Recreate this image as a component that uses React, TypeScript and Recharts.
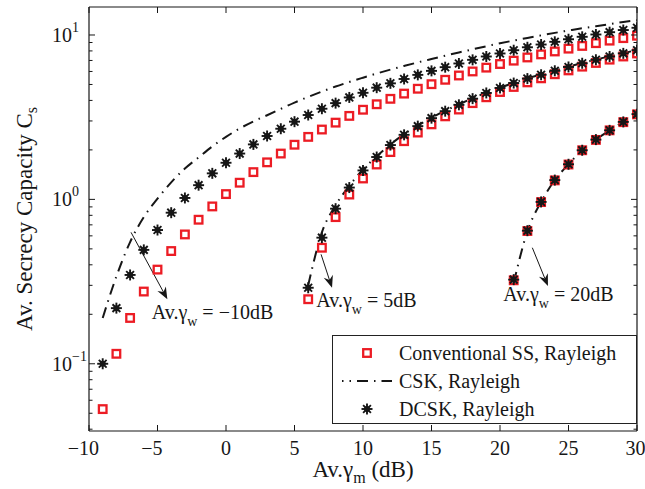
import React from 'react'
import {
  ComposedChart, Line, Scatter, XAxis, YAxis, Legend,
  ReferenceLine, ReferenceDot,
} from 'recharts'

const W = 645
const H = 489
const MARGIN = { top: 7, right: 8, left: 0, bottom: 0 }
const Y_AXIS_W = 89
const X_AXIS_H = 58
const PLOT_LEFT = MARGIN.left + Y_AXIS_W
const PLOT_RIGHT = W - MARGIN.right
const PLOT_TOP = MARGIN.top
const PLOT_BOTTOM = H - MARGIN.bottom - X_AXIS_H

const FONT = '"Liberation Serif", "Times New Roman", serif'
const RED = '#ec1c24'
const INK = '#161616'

const X_MIN = -10
const X_MAX = 30
const Y_MIN = 0.039
const Y_MAX = 14.8

// Av. gamma_w = -10 dB
const xLow = [-9, -8, -7, -6, -5, -4, -3, -2, -1, 0, 1, 2, 3, 4, 5, 6, 7, 8, 9, 10,
  11, 12, 13, 14, 15, 16, 17, 18, 19, 20, 21, 22, 23, 24, 25, 26, 27, 28, 29, 30]
const ssLow = [0.053, 0.115, 0.19, 0.275, 0.374, 0.485, 0.612, 0.752, 0.906, 1.077,
  1.263, 1.465, 1.68, 1.9, 2.15, 2.4, 2.66, 2.93, 3.22, 3.51,
  3.79, 4.09, 4.4, 4.71, 5.02, 5.34, 5.67, 6.0, 6.33, 6.66,
  6.98, 7.3, 7.62, 7.94, 8.26, 8.58, 8.92, 9.24, 9.57, 9.9]
const cskLow = [0.19, 0.34, 0.55, 0.78, 1.01, 1.27, 1.54, 1.8, 2.1, 2.4,
  2.7, 2.98, 3.25, 3.55, 3.88, 4.2, 4.53, 4.86, 5.18, 5.5,
  5.83, 6.16, 6.48, 6.81, 7.14, 7.48, 7.83, 8.18, 8.54, 8.9,
  9.25, 9.6, 9.95, 10.3, 10.65, 11.0, 11.3, 11.65, 12.0, 12.3]
const dcskLow = [0.1, 0.218, 0.347, 0.493, 0.651, 0.83, 1.02, 1.22, 1.44, 1.67,
  1.9, 2.16, 2.43, 2.69, 2.97, 3.26, 3.56, 3.85, 4.17, 4.45,
  4.78, 5.08, 5.4, 5.72, 6.05, 6.37, 6.71, 7.06, 7.4, 7.72,
  8.08, 8.42, 8.75, 9.09, 9.42, 9.75, 10.07, 10.4, 10.72, 11.06]

// Av. gamma_w = 5 dB
const xMid = [6, 7, 8, 9, 10, 11, 12, 13, 14, 15, 16, 17, 18, 19, 20, 21, 22, 23, 24, 25, 26, 27, 28, 29, 30]
const ssMid = [0.247, 0.508, 0.78, 1.07, 1.34, 1.63, 1.94, 2.26, 2.55, 2.86, 3.2, 3.52, 3.85,
  4.18, 4.5, 4.83, 5.15, 5.45, 5.77, 6.09, 6.42, 6.76, 7.08, 7.4, 7.72]
const cskMid = [0.3, 0.63, 0.92, 1.21, 1.52, 1.83, 2.16, 2.49, 2.81, 3.14, 3.46, 3.78, 4.12,
  4.46, 4.78, 5.12, 5.45, 5.75, 6.08, 6.41, 6.75, 7.09, 7.42, 7.75, 8.1]
const dcskMid = [0.29, 0.585, 0.878, 1.18, 1.5, 1.81, 2.14, 2.47, 2.79, 3.12, 3.44, 3.76, 4.1,
  4.44, 4.76, 5.1, 5.43, 5.73, 6.06, 6.39, 6.73, 7.07, 7.4, 7.73, 8.08]

// Av. gamma_w = 20 dB
const xHigh = [21, 22, 23, 24, 25, 26, 27, 28, 29, 30]
const ssHigh = [0.322, 0.642, 0.963, 1.305, 1.63, 1.99, 2.3, 2.63, 2.95, 3.29]
const cskHigh = [0.31, 0.64, 0.965, 1.31, 1.635, 1.99, 2.31, 2.63, 2.96, 3.3]
const dcskHigh = [0.325, 0.645, 0.965, 1.31, 1.635, 1.99, 2.31, 2.63, 2.96, 3.3]

const xTicks = [-10, -5, 0, 5, 10, 15, 20, 25, 30]
const yMajor = [0.1, 1, 10]
const yMinor = [0.04, 0.05, 0.06, 0.07, 0.08, 0.09, 0.2, 0.3, 0.4, 0.5, 0.6, 0.7, 0.8, 0.9,
  2, 3, 4, 5, 6, 7, 8, 9]

const legendLabels = ['Conventional SS, Rayleigh', 'CSK, Rayleigh', 'DCSK, Rayleigh']

// annotation arrows (data coords) and their captions
const arrowSegments = [
  [{ x: -6.93, y: 0.63 }, { x: -4.28, y: 0.247 }],
  [{ x: 6.94, y: 0.463 }, { x: 7.74, y: 0.29 }],
  [{ x: 22.36, y: 0.508 }, { x: 23.5, y: 0.297 }],
]
const noteLabels = [
  { x: -5.42, y: 0.1865, value: '−10dB' },
  { x: 6.59, y: 0.2206, value: '5dB' },
  { x: 20.24, y: 0.241, value: '20dB' },
]

const toPoints = (xs: number[], ys: number[]) => xs.map((x, i) => ({ x, y: ys[i] }))

const CSK_DASH = '11 6 1.5 6'

function SquareMark({ cx, cy }: any) {
  if (cx == null || cy == null) return null
  return <rect x={cx - 3.8} y={cy - 3.8} width={7.6} height={7.6} fill="none" stroke={RED} strokeWidth={2.3} />
}

function StarMark({ cx, cy }: any) {
  if (cx == null || cy == null) return null
  const r = 5.5
  const d = 3.9
  return (
    <g stroke={INK} strokeWidth={1.9}>
      <line x1={cx - r} y1={cy} x2={cx + r} y2={cy} />
      <line x1={cx} y1={cy - r} x2={cx} y2={cy + r} />
      <line x1={cx - d} y1={cy - d} x2={cx + d} y2={cy + d} />
      <line x1={cx - d} y1={cy + d} x2={cx + d} y2={cy - d} />
      <circle cx={cx} cy={cy} r={3} fill={INK} stroke="none" />
    </g>
  )
}

function XTick({ x, payload }: any) {
  const v = payload.value
  const label = v < 0 ? '−' + Math.abs(v) : String(v)
  // keep the last label inside the page edge
  const shift = v < 0 ? -5.6 : v === X_MAX ? -1.5 : 0
  return (
    <g>
      <line x1={x} x2={x} y1={PLOT_BOTTOM} y2={PLOT_BOTTOM - 6} stroke={INK} />
      <line x1={x} x2={x} y1={PLOT_TOP} y2={PLOT_TOP + 6} stroke={INK} />
      <text x={x + shift} y={PLOT_BOTTOM + 24} textAnchor="middle"
        fontFamily={FONT} fontSize={20} fill={INK}>{label}</text>
    </g>
  )
}

function YTick({ y, payload }: any) {
  const v = payload.value
  const major = yMajor.includes(v)
  const len = major ? 6 : 3.5
  const exp = Math.round(Math.log10(v))
  return (
    <g>
      <line x1={PLOT_LEFT} x2={PLOT_LEFT + len} y1={y} y2={y} stroke={INK} />
      <line x1={PLOT_RIGHT} x2={PLOT_RIGHT - len} y1={y} y2={y} stroke={INK} />
      {major && (
        <text x={PLOT_LEFT - 37} y={y + 7} fontFamily={FONT} fontSize={20} fill={INK}>
          10<tspan dy={-10} fontSize={14}>{exp < 0 ? '−' + Math.abs(exp) : exp}</tspan>
        </text>
      )}
    </g>
  )
}

function YLabel() {
  const cy = (PLOT_TOP + PLOT_BOTTOM) / 2
  return (
    <text transform={`translate(32, ${cy}) rotate(-90)`} textAnchor="middle"
      fontFamily={FONT} fontSize={23} fill={INK}>
      Av. Secrecy Capacity C<tspan dy={5} fontSize={16}>s</tspan>
    </text>
  )
}

function XLabel() {
  const cx = (PLOT_LEFT + PLOT_RIGHT) / 2
  return (
    <text x={cx} y={477} textAnchor="middle" fontFamily={FONT} fontSize={23} fill={INK}>
      Av.γ<tspan dy={6} fontSize={16}>m</tspan><tspan dy={-6}> (dB)</tspan>
    </text>
  )
}

function Arrow({ x1, y1, x2, y2 }: any) {
  const dx = x2 - x1
  const dy = y2 - y1
  const len = Math.hypot(dx, dy) || 1
  const ux = dx / len
  const uy = dy / len
  const hl = 12
  const hw = 4.8
  const bx = x2 - ux * hl
  const by = y2 - uy * hl
  const nx = -uy
  const ny = ux
  const kx = x2 - ux * hl * 0.68
  const ky = y2 - uy * hl * 0.68
  return (
    <g>
      <line x1={x1} y1={y1} x2={kx} y2={ky} stroke={INK} strokeWidth={1} />
      <polygon
        points={`${x2},${y2} ${bx + nx * hw},${by + ny * hw} ${kx},${ky} ${bx - nx * hw},${by - ny * hw}`}
        fill={INK}
      />
    </g>
  )
}

function noteShape(value: string) {
  return ({ cx, cy }: any) => (
    <text x={cx} y={cy} fontFamily={FONT} fontSize={20} fill={INK}>
      Av.γ<tspan dy={7} fontSize={14}>w</tspan><tspan dy={-7}> = {value}</tspan>
    </text>
  )
}

function LegendBox() {
  return (
    <div style={{
      width: 305, height: 89, border: '1px solid #222', background: '#fff',
      boxSizing: 'border-box', paddingTop: 3, fontFamily: FONT, fontSize: 20, color: INK,
    }}>
      {legendLabels.map((label, i) => (
        <div key={label} style={{ display: 'flex', alignItems: 'center', height: 28 }}>
          <svg width={66} height={28} style={{ flex: 'none' }}>
            {i === 0 && <SquareMark cx={34} cy={14} />}
            {i === 1 && <line x1={9} x2={59} y1={14} y2={14} stroke={INK} strokeWidth={2} strokeDasharray={CSK_DASH} strokeDashoffset={-15} />}
            {i === 2 && <StarMark cx={34} cy={14} />}
          </svg>
          <span style={{ lineHeight: '28px', whiteSpace: 'nowrap' }}>{label}</span>
        </div>
      ))}
    </div>
  )
}

export default function App() {
  const yTicks = [...yMinor, ...yMajor].sort((a, b) => a - b)
  const groups = [
    { xs: xLow, ss: ssLow, csk: cskLow, dcsk: dcskLow },
    { xs: xMid, ss: ssMid, csk: cskMid, dcsk: dcskMid },
    { xs: xHigh, ss: ssHigh, csk: cskHigh, dcsk: dcskHigh },
  ]
  return (
    <div style={{ position: 'absolute', left: 0, top: 0, width: W, height: H, background: '#fff' }}>
      <ComposedChart width={W} height={H} margin={MARGIN}>
        <XAxis
          type="number" dataKey="x" domain={[X_MIN, X_MAX]} ticks={xTicks} interval={0}
          allowDataOverflow height={X_AXIS_H} tickLine={false}
          axisLine={{ stroke: INK, strokeWidth: 1.2 }} tick={<XTick />} label={<XLabel />}
        />
        <YAxis
          type="number" dataKey="y" scale="log" domain={[Y_MIN, Y_MAX]} ticks={yTicks} interval={0}
          allowDataOverflow width={Y_AXIS_W} tickLine={false}
          axisLine={{ stroke: INK, strokeWidth: 1.2 }} tick={<YTick />} label={<YLabel />}
        />
        <ReferenceLine x={X_MAX} stroke={INK} strokeWidth={1.2} />
        <ReferenceLine y={Y_MAX} stroke={INK} strokeWidth={1.2} />

        {groups.map((g, i) => (
          <Scatter key={`ss${i}`} data={toPoints(g.xs, g.ss)} dataKey="y"
            shape={SquareMark} isAnimationActive={false} />
        ))}
        {groups.map((g, i) => (
          <Line key={`csk${i}`} data={toPoints(g.xs, g.csk)} dataKey="y" type="monotone"
            stroke={INK} strokeWidth={2} strokeDasharray={CSK_DASH} dot={false}
            activeDot={false} isAnimationActive={false} />
        ))}
        {groups.map((g, i) => (
          <Scatter key={`dcsk${i}`} data={toPoints(g.xs, g.dcsk)} dataKey="y"
            shape={StarMark} isAnimationActive={false} />
        ))}

        {arrowSegments.map((seg, i) => (
          <ReferenceLine key={`arr${i}`} segment={seg} shape={Arrow} />
        ))}
        {noteLabels.map((n, i) => (
          <ReferenceDot key={`note${i}`} x={n.x} y={n.y} shape={noteShape(n.value)} />
        ))}

        <Legend
          layout="vertical" align="center" verticalAlign="middle"
          wrapperStyle={{ left: 332, top: 335, width: 305, height: 89 }}
          content={() => <LegendBox />}
        />
      </ComposedChart>
    </div>
  )
}
